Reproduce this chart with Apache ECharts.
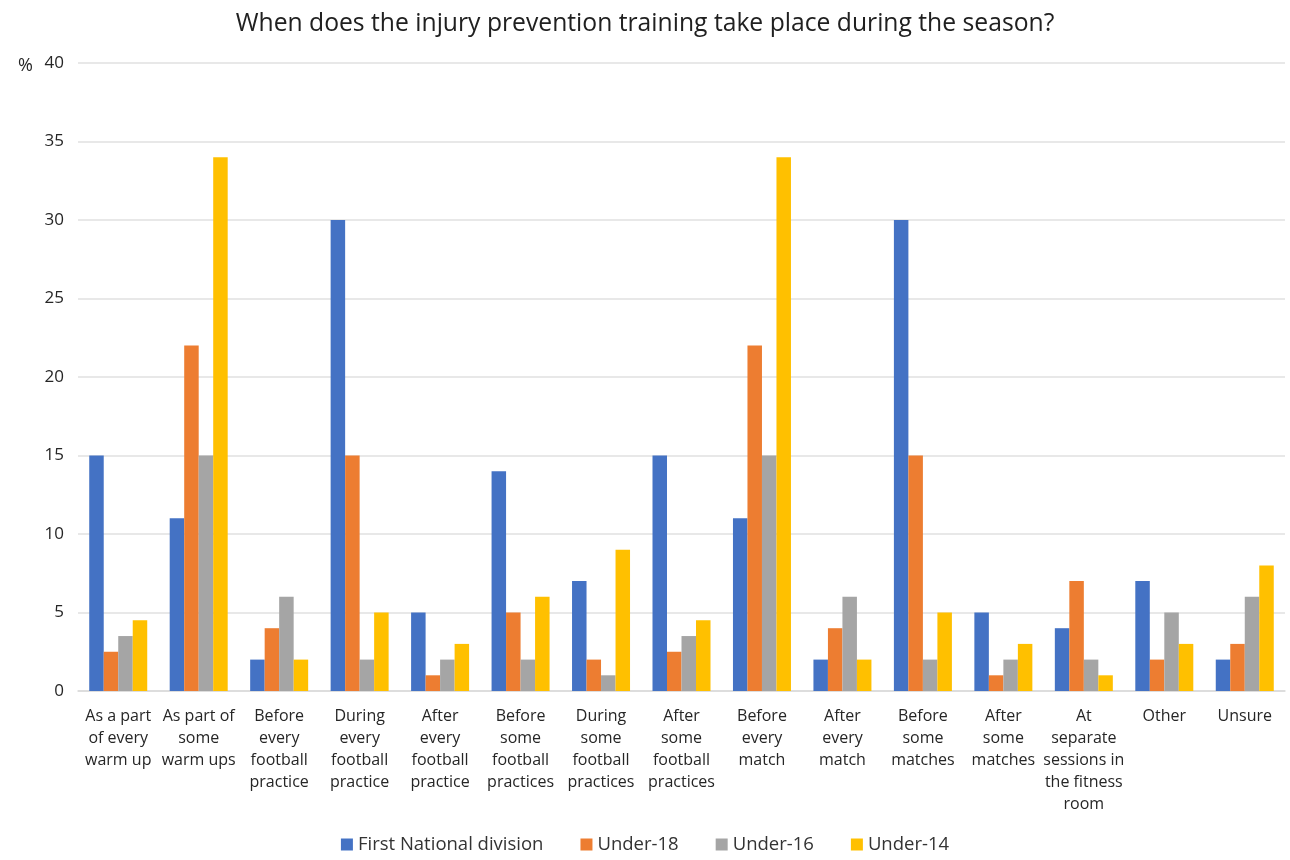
<!DOCTYPE html>
<html>
<head>
<meta charset="utf-8">
<script src="https://cdn.jsdelivr.net/npm/echarts@6/dist/echarts.min.js"></script>
<style>
  html, body { margin: 0; padding: 0; background: #fff; }
  #chart { width: 1290px; height: 860px; }
</style>
</head>
<body>
<div id="chart"></div>
<script>
const categories = [
  'As a part\nof every\nwarm up',
  'As part of\nsome\nwarm ups',
  'Before\nevery\nfootball\npractice',
  'During\nevery\nfootball\npractice',
  'After\nevery\nfootball\npractice',
  'Before\nsome\nfootball\npractices',
  'During\nsome\nfootball\npractices',
  'After\nsome\nfootball\npractices',
  'Before\nevery\nmatch',
  'After\nevery\nmatch',
  'Before\nsome\nmatches',
  'After\nsome\nmatches',
  'At\nseparate\nsessions in\nthe fitness\nroom',
  'Other',
  'Unsure'
];
const firstNational = [15, 11, 2, 30, 5, 14, 7, 15, 11, 2, 30, 5, 4, 7, 2];
const under18 = [2.5, 22, 4, 15, 1, 5, 2, 2.5, 22, 4, 15, 1, 7, 2, 3];
const under16 = [3.5, 15, 6, 2, 2, 2, 1, 3.5, 15, 6, 2, 2, 2, 5, 6];
const under14 = [4.5, 34, 2, 5, 3, 6, 9, 4.5, 34, 2, 5, 3, 1, 3, 8];
const seriesNames = ['First National division', 'Under-18', 'Under-16', 'Under-14'];
const colors = ['#4472C4', '#ED7D31', '#A5A5A5', '#FFC000'];
const yTicks = { min: 0, max: 40, interval: 5 };

const font = '"Open Sans", "Liberation Sans", sans-serif';
const chart = echarts.init(document.getElementById('chart'));
const dataSets = [firstNational, under18, under16, under14];
chart.setOption({
  animation: false,
  color: colors,
  textStyle: { fontFamily: font },
  title: {
    text: 'When does the injury prevention training take place during the season?',
    left: 'center',
    top: 6,
    textStyle: { fontSize: 24.7, fontWeight: 'normal', color: '#202020', fontFamily: font }
  },
  legend: {
    bottom: 1,
    left: 'center',
    itemWidth: 12,
    itemHeight: 12,
    itemGap: 37,
    icon: 'rect',
    textStyle: { fontSize: 18.5, color: '#333', fontFamily: font },
    data: seriesNames
  },
  grid: { left: 78, right: 5, top: 63, bottom: 169, containLabel: false },
  xAxis: {
    type: 'category',
    data: categories,
    axisLine: { lineStyle: { color: '#d9d9d9', width: 1.5 } },
    axisTick: { show: false },
    axisLabel: {
      interval: 0,
      fontSize: 16,
      lineHeight: 22,
      color: '#262626',
      margin: 14,
      fontFamily: font
    }
  },
  yAxis: {
    type: 'value',
    min: yTicks.min,
    max: yTicks.max,
    interval: yTicks.interval,
    name: '%',
    nameLocation: 'end',
    nameGap: 0,
    nameTextStyle: { fontSize: 18, color: '#262626', align: 'right', padding: [0, 45, -12, 0] },
    axisLine: { show: false },
    axisTick: { show: false },
    splitLine: { lineStyle: { color: '#e0e0e0', width: 1.5 } },
    axisLabel: { fontSize: 17, color: '#262626', margin: 14, fontFamily: font }
  },
  series: seriesNames.map((n, i) => ({
    name: n,
    type: 'bar',
    data: dataSets[i],
    barWidth: 14.5,
    barGap: '0%',
    itemStyle: { color: colors[i] }
  }))
});
</script>
</body>
</html>
